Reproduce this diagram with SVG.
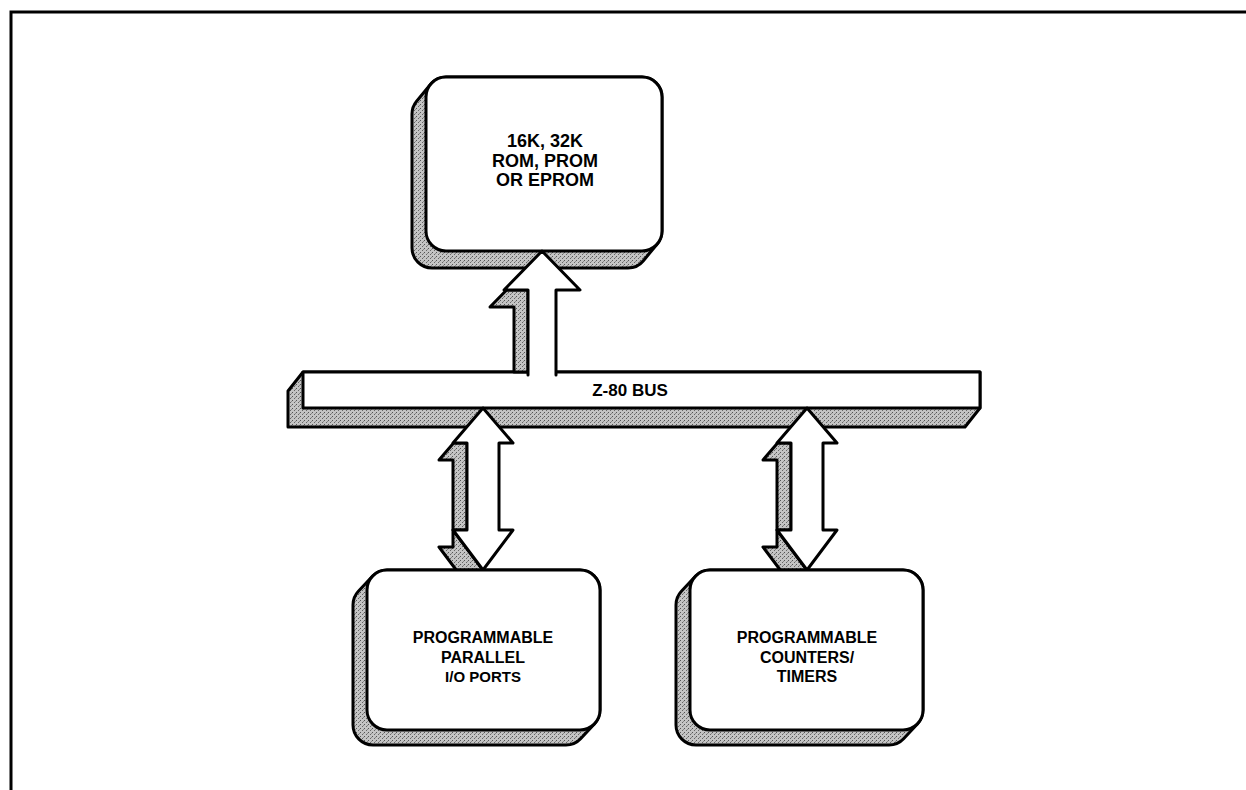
<svg xmlns="http://www.w3.org/2000/svg" width="1246" height="790" viewBox="0 0 1246 790">
<defs>
<pattern id="stip" width="4" height="4" patternUnits="userSpaceOnUse">
<rect width="4" height="4" fill="#c4c4c4"/>
<rect x="0" y="0" width="1" height="1" fill="#555"/>
<rect x="2" y="2" width="1" height="1" fill="#666"/>
<rect x="3" y="1" width="1" height="1" fill="#8a8a8a"/>
</pattern>
</defs>
<style>
.ln{stroke:#000;stroke-width:3;stroke-linejoin:round;stroke-linecap:round}
.sh{fill:url(#stip)}
.fr{fill:#fff}
.tn{font-family:"Liberation Sans Narrow","Liberation Sans",Arial,sans-serif;font-weight:bold;font-size:18px;text-anchor:middle;fill:#000}
.tw{font-family:"Liberation Sans",Arial,sans-serif;font-weight:bold;font-size:16px;text-anchor:middle;fill:#000}
</style>
<rect x="11" y="12" width="1300" height="900" fill="#fff" stroke="#000" stroke-width="3"/>

<g id="rom">
<path class="sh ln" d="M430.6,84.3 A20,20 0 0 1 446,77 L642,77 A20,20 0 0 1 662,97 L662,231 A20,20 0 0 1 657.4,243.7 L643.4,260.7 A20,20 0 0 1 628,268 L432,268 A20,20 0 0 1 412,248 L412,114 A20,20 0 0 1 416.6,101.3 Z"/>
<rect class="fr ln" x="426" y="77" width="236" height="174" rx="20" ry="20"/>
<text class="tn" x="545" y="147">16K, 32K</text>
<text class="tn" x="545" y="167">ROM, PROM</text>
<text class="tn" x="545" y="186">OR EPROM</text>
</g>

<g id="bus">
<polygon class="sh ln" points="303,372 288,391 288,427 965,427 980,408 980,372"/>
<rect class="fr ln" x="303" y="372" width="677" height="36"/>
<text class="tn" x="630" y="396" style="font-size:17px">Z-80 BUS</text>
</g>

<g id="connectors">
<!-- up arrow to ROM -->
<polygon class="sh ln" points="506.6,290 528,290 528,372 514,372 514,307 490,307"/>
<path class="fr ln" d="M528,375 L528,290 L504,290 L542,251 L580,290 L556,290 L556,375"/>
<!-- left double arrow -->
<polygon class="sh ln" points="453.6,443 467,443 467,530 453,530 483,570 469,587 439,547 453,547 453,460 439,460"/>
<polygon class="fr ln" points="483,408 513,443 499,443 499,530 513,530 483,570 453,530 467,530 467,443 453,443"/>
<!-- right double arrow -->
<polygon class="sh ln" points="777.6,443 791,443 791,530 777,530 807,570 793,587 763,547 777,547 777,460 763,460"/>
<polygon class="fr ln" points="807,408 837,443 823,443 823,530 837,530 807,570 777,530 791,530 791,443 777,443"/>
</g>

<g id="pio">
<path class="sh ln" d="M372.4,576.3 A20,20 0 0 1 387,570 L580,570 A20,20 0 0 1 600,590 L600,710 A20,20 0 0 1 594.6,723.7 L580.6,738.7 A20,20 0 0 1 566,745 L373,745 A20,20 0 0 1 353,725 L353,605 A20,20 0 0 1 358.4,591.3 Z"/>
<rect class="fr ln" x="367" y="570" width="233" height="160" rx="20" ry="20"/>
<text class="tw" x="483" y="643">PROGRAMMABLE</text>
<text class="tw" x="483" y="663">PARALLEL</text>
<text class="tw" x="483" y="682" style="font-size:15px">I/O PORTS</text>
</g>

<g id="ctc">
<path class="sh ln" d="M695.4,576.3 A20,20 0 0 1 710,570 L903,570 A20,20 0 0 1 923,590 L923,710 A20,20 0 0 1 917.6,723.7 L903.6,738.7 A20,20 0 0 1 889,745 L696,745 A20,20 0 0 1 676,725 L676,605 A20,20 0 0 1 681.4,591.3 Z"/>
<rect class="fr ln" x="690" y="570" width="233" height="160" rx="20" ry="20"/>
<text class="tw" x="807" y="643">PROGRAMMABLE</text>
<text class="tw" x="807" y="663">COUNTERS/</text>
<text class="tw" x="807" y="682">TIMERS</text>
</g>
</svg>
